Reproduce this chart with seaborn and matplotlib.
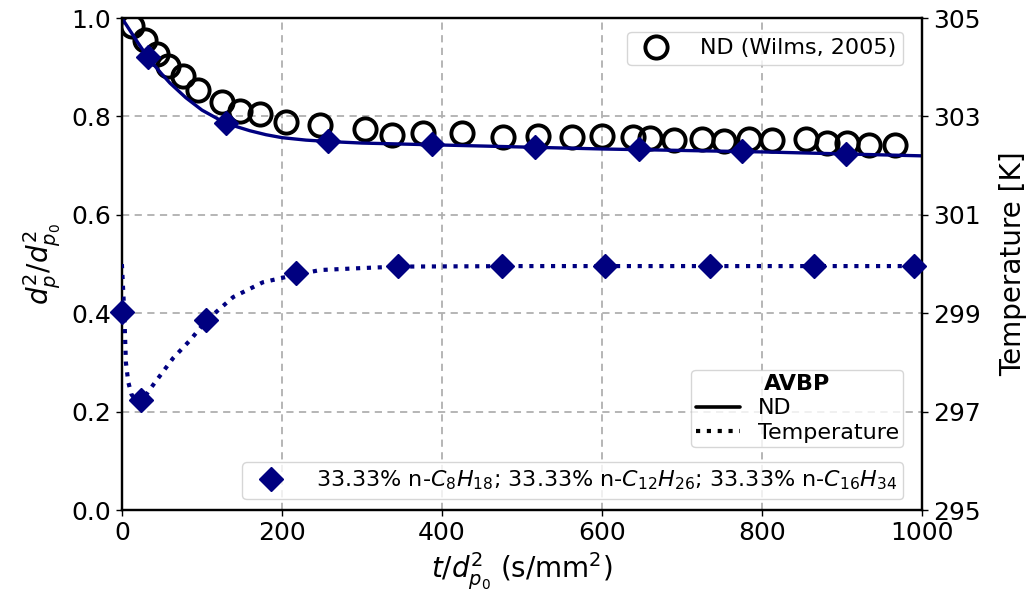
import numpy as np
import pandas as pd
import matplotlib
matplotlib.use("Agg")
import matplotlib.pyplot as plt
import seaborn as sns
from matplotlib.lines import Line2D

# ---------------- data ----------------
# Experimental data (Wilms, 2005): d^2/d0^2 vs t/d0^2
exp_t = [12, 29, 44, 58, 76, 95, 125, 148, 172, 205, 248, 304, 337, 376, 425,
         476, 520, 562, 600, 639, 660, 690, 725, 752, 783, 812, 854, 881, 906, 933, 966]
exp_d2 = [0.984, 0.955, 0.928, 0.902, 0.882, 0.853, 0.829, 0.812, 0.806, 0.789, 0.782,
          0.775, 0.762, 0.767, 0.767, 0.758, 0.761, 0.758, 0.761, 0.758, 0.757, 0.752,
          0.755, 0.751, 0.754, 0.752, 0.755, 0.747, 0.746, 0.743, 0.742]

# AVBP simulation: d^2/d0^2 line
nd_t = [0, 10, 20, 30, 40, 50, 60, 80, 100, 120, 140, 160, 180, 200, 230, 260, 300,
        400, 500, 600, 700, 800, 900, 1000]
nd_d2 = [1.0, 0.975, 0.950, 0.926, 0.905, 0.886, 0.868, 0.838, 0.813, 0.795, 0.781,
         0.771, 0.763, 0.757, 0.752, 0.749, 0.746, 0.742, 0.738, 0.734, 0.731, 0.728,
         0.724, 0.720]

# AVBP simulation: temperature line [K]
temp_t = [0, 3, 5, 8, 12, 18, 24, 37, 64, 85, 106, 139, 176, 216, 248, 300, 347, 500, 1000]
temp_K = [300.0, 299.0, 298.0, 297.6, 297.35, 297.22, 297.2, 297.5, 298.09, 298.45,
          298.86, 299.33, 299.63, 299.78, 299.88, 299.92, 299.95, 299.96, 299.96]

# Diamond markers (AVBP, 33.33% mixture)
nd_mk_t = [32, 130, 257, 387, 516, 646, 774, 905]
nd_mk_d2 = [0.921, 0.787, 0.750, 0.744, 0.738, 0.734, 0.730, 0.724]
temp_mk_t = [0, 24, 105, 217, 345, 475, 604, 734, 864, 989]
temp_mk_K = [299.02, 297.24, 298.86, 299.82, 299.96, 299.96, 299.96, 299.96, 299.96, 299.96]

x_ticks = [0, 200, 400, 600, 800, 1000]
y_ticks = [0.0, 0.2, 0.4, 0.6, 0.8, 1.0]
t_ticks = [295, 297, 299, 301, 303, 305]

mix_label = r"33.33% n-$C_8H_{18}$; 33.33% n-$C_{12}H_{26}$; 33.33% n-$C_{16}H_{34}$"

# ---------------- plot ----------------
sns.set_style("ticks", {"text.color": "black", "axes.labelcolor": "black",
                        "xtick.color": "black", "ytick.color": "black",
                        "axes.edgecolor": "black"})
plt.rcParams["font.family"] = ["DejaVu Sans"]
plt.rcParams["mathtext.fontset"] = "dejavusans"
plt.rcParams["legend.edgecolor"] = "#cccccc"

NAVY = "#000080"
fig = plt.figure(figsize=(10.33, 6.03), dpi=100)
ax = fig.add_axes([0.118, 0.154, 0.775, 0.816])
ax2 = ax.twinx()

df_nd = pd.DataFrame({"t": nd_t, "d2": nd_d2})
df_T = pd.DataFrame({"t": temp_t, "T": temp_K})
df_exp = pd.DataFrame({"t": exp_t, "d2": exp_d2})

# experiment circles
ax.plot(df_exp["t"], df_exp["d2"], linestyle="none", marker="o", markersize=16,
        markerfacecolor="none", markeredgecolor="black", markeredgewidth=2.8, zorder=3)
# AVBP ND line
sns.lineplot(data=df_nd, x="t", y="d2", ax=ax, color=NAVY, linewidth=2.4, zorder=4,
             estimator=None, sort=False)
ax.plot(nd_mk_t, nd_mk_d2, linestyle="none", marker="D", markersize=12,
        color=NAVY, zorder=5)

# Temperature
sns.lineplot(data=df_T, x="t", y="T", ax=ax2, color=NAVY, linewidth=3.0,
             linestyle=(0, (1, 1.6)), estimator=None, sort=False, zorder=4)
ax2.plot(temp_mk_t, temp_mk_K, linestyle="none", marker="D", markersize=12,
         color=NAVY, zorder=5, clip_on=False)

ax.set_xlim(0, 1000)
ax.set_ylim(0, 1)
ax2.set_ylim(295, 305)
ax.set_xticks(x_ticks)
ax.set_yticks(y_ticks)
ax2.set_yticks(t_ticks)
ax.grid(True, linestyle=(0, (4, 3)), color="#b0b0b0", linewidth=1.3)
for a in (ax, ax2):
    a.tick_params(labelsize=18, length=4, width=1, colors="black")
    for s in a.spines.values():
        s.set_linewidth(1.6)
        s.set_color("black")

ax.set_xlabel(r"$t/d_{p_0}^2$ (s/mm$^2$)", fontsize=20, labelpad=4, color="black")
ax.set_ylabel(r"$d_p^2/d_{p_0}^2$", fontsize=20, labelpad=6, color="black")
ax2.set_ylabel("Temperature [K]", fontsize=20, labelpad=13, color="black")

# legends
h1 = [Line2D([], [], linestyle="none", marker="o", markersize=16, markerfacecolor="none",
             markeredgecolor="black", markeredgewidth=2.8)]
leg1 = ax2.legend(h1, ["ND (Wilms, 2005)"], loc="upper right", fontsize=16,
                  bbox_to_anchor=(0.99, 0.995), borderpad=0.3, handletextpad=1.0,
                  labelcolor="black")
ax2.add_artist(leg1)

h2 = [Line2D([], [], color="black", linewidth=2.6),
      Line2D([], [], color="black", linewidth=3.0, linestyle=(0, (1, 1.6)))]
leg2 = ax2.legend(h2, ["ND", "Temperature"], loc="lower right", fontsize=16,
                  title="AVBP", title_fontproperties={"weight": "bold", "size": 16},
                  bbox_to_anchor=(0.99, 0.105), borderpad=0.2, labelspacing=0.2,
                  handlelength=2.0, handletextpad=0.8, labelcolor="black")
leg2.get_title().set_color("black")
ax2.add_artist(leg2)

h3 = [Line2D([], [], linestyle="none", marker="D", markersize=12, color=NAVY)]
leg3 = ax2.legend(h3, [mix_label], loc="lower right", fontsize=16,
                  bbox_to_anchor=(0.99, 0.0), borderpad=0.3, handletextpad=1.0,
                  labelcolor="black")

fig.savefig("out.png", dpi=100)
